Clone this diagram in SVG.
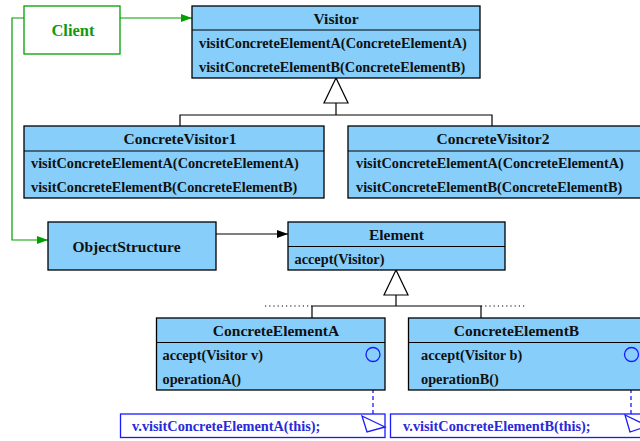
<svg xmlns="http://www.w3.org/2000/svg" width="640" height="441" viewBox="0 0 640 441">
<defs>
<style>
.box{fill:#87cefa;stroke:#000;stroke-width:1.3}
.t{font-family:"Liberation Serif","Times New Roman",serif;font-weight:bold;fill:#111}
.title{font-size:15.5px;text-anchor:middle}
.m{font-size:14.3px}
.ln{fill:none;stroke:#000;stroke-width:1.2}
.gen{fill:#fff;stroke:#000;stroke-width:1.2}
.note{fill:#fff;stroke:#1a1aff;stroke-width:1.3}
.nt{font-family:"Liberation Serif","Times New Roman",serif;font-weight:bold;font-size:14.3px;fill:#2a2ad8}
</style>
<marker id="ag" markerWidth="12" markerHeight="8" refX="11" refY="4" orient="auto" markerUnits="userSpaceOnUse"><path d="M0,0 L11,4 L0,8 Z" fill="#00a000"/></marker>
<marker id="ab" markerWidth="12" markerHeight="8" refX="11" refY="4" orient="auto" markerUnits="userSpaceOnUse"><path d="M0,0 L11,4 L0,8 Z" fill="#000"/></marker>
</defs>
<rect width="640" height="441" fill="#fff"/>
<g id="connectors">
<path d="M120,18 H192" fill="none" stroke="#00a000" stroke-width="1.2" marker-end="url(#ag)"/>
<path d="M24,18 H12 V240 H48" fill="none" stroke="#00a000" stroke-width="1.2" marker-end="url(#ag)"/>
<path d="M216,234 H288" class="ln" marker-end="url(#ab)"/>
<path d="M336,103 V115 M180,126 V115 H492 V126" class="ln"/>
<polygon points="336,78 324,103 348,103" class="gen"/>
<path d="M396,295 V306 M312,318 V306 H481 V318" class="ln"/>
<path d="M265,306 H312 M481,306 H527" fill="none" stroke="#000" stroke-width="1.2" stroke-dasharray="1.2,3"/>
<polygon points="396,270 384,295 408,295" class="gen"/>
<path d="M373,361 V416 M631,361 V415" fill="none" stroke="#1a1aff" stroke-width="1.3" stroke-dasharray="4,3"/>
</g>
<g id="client">
<rect x="24" y="6" width="96" height="48" fill="#fff" stroke="#00a000" stroke-width="1.3"/>
<text x="73" y="36" font-family="Liberation Serif,Times New Roman,serif" font-weight="bold" font-size="16.5" fill="#109a10" text-anchor="middle">Client</text>
</g>
<g id="visitor">
<rect x="192" y="6" width="288" height="72" class="box"/>
<line x1="192" y1="30" x2="480" y2="30" class="ln"/>
<text x="336" y="24" class="t title">Visitor</text>
<text x="199" y="48" class="t m">visitConcreteElementA(ConcreteElementA)</text>
<text x="199" y="72" class="t m">visitConcreteElementB(ConcreteElementB)</text>
</g>
<g id="concreteVisitor1">
<rect x="24" y="126" width="300" height="72" class="box"/>
<line x1="24" y1="151" x2="324" y2="151" class="ln"/>
<text x="180" y="144" class="t title">ConcreteVisitor1</text>
<text x="31" y="168" class="t m">visitConcreteElementA(ConcreteElementA)</text>
<text x="31" y="192" class="t m">visitConcreteElementB(ConcreteElementB)</text>
</g>
<g id="concreteVisitor2">
<rect x="348" y="126" width="300" height="72" class="box"/>
<line x1="348" y1="151" x2="648" y2="151" class="ln"/>
<text x="493" y="144" class="t title">ConcreteVisitor2</text>
<text x="356" y="168" class="t m">visitConcreteElementA(ConcreteElementA)</text>
<text x="356" y="192" class="t m">visitConcreteElementB(ConcreteElementB)</text>
</g>
<g id="objectStructure">
<rect x="48" y="222" width="168" height="48" class="box"/>
<text x="126.5" y="252" class="t title">ObjectStructure</text>
</g>
<g id="element">
<rect x="288" y="222" width="217" height="48" class="box"/>
<line x1="288" y1="246.5" x2="505" y2="246.5" class="ln"/>
<text x="396.5" y="240" class="t title">Element</text>
<text x="294.5" y="264" class="t m">accept(Visitor)</text>
</g>
<g id="concreteElementA">
<rect x="156.5" y="318" width="228.5" height="72" class="box"/>
<line x1="156.5" y1="342.5" x2="385" y2="342.5" class="ln"/>
<text x="276" y="336" class="t title">ConcreteElementA</text>
<text x="162.5" y="360" class="t m">accept(Visitor v)</text>
<text x="162.5" y="384" class="t m">operationA()</text>
<circle cx="373" cy="354.5" r="7" fill="none" stroke="#1a1aff" stroke-width="1.3"/>
</g>
<g id="concreteElementB">
<rect x="408.5" y="318" width="236" height="72" class="box"/>
<line x1="408.5" y1="342.5" x2="644.5" y2="342.5" class="ln"/>
<text x="516.5" y="336" class="t title">ConcreteElementB</text>
<text x="421" y="360" class="t m">accept(Visitor b)</text>
<text x="421" y="384" class="t m">operationB()</text>
<circle cx="631.5" cy="354.5" r="7" fill="none" stroke="#1a1aff" stroke-width="1.3"/>
</g>
<g id="noteA">
<rect x="120.5" y="414" width="264.5" height="23.5" class="note"/>
<polygon points="362,416 385,427 367,432" class="note"/>
<text x="132" y="431" class="nt">v.visitConcreteElementA(this);</text>
</g>
<g id="noteB">
<rect x="390.5" y="414" width="264.5" height="23.5" class="note"/>
<polygon points="625,415 648,426 630,432" class="note"/>
<text x="403" y="431" class="nt">v.visitConcreteElementB(this);</text>
</g>
</svg>
